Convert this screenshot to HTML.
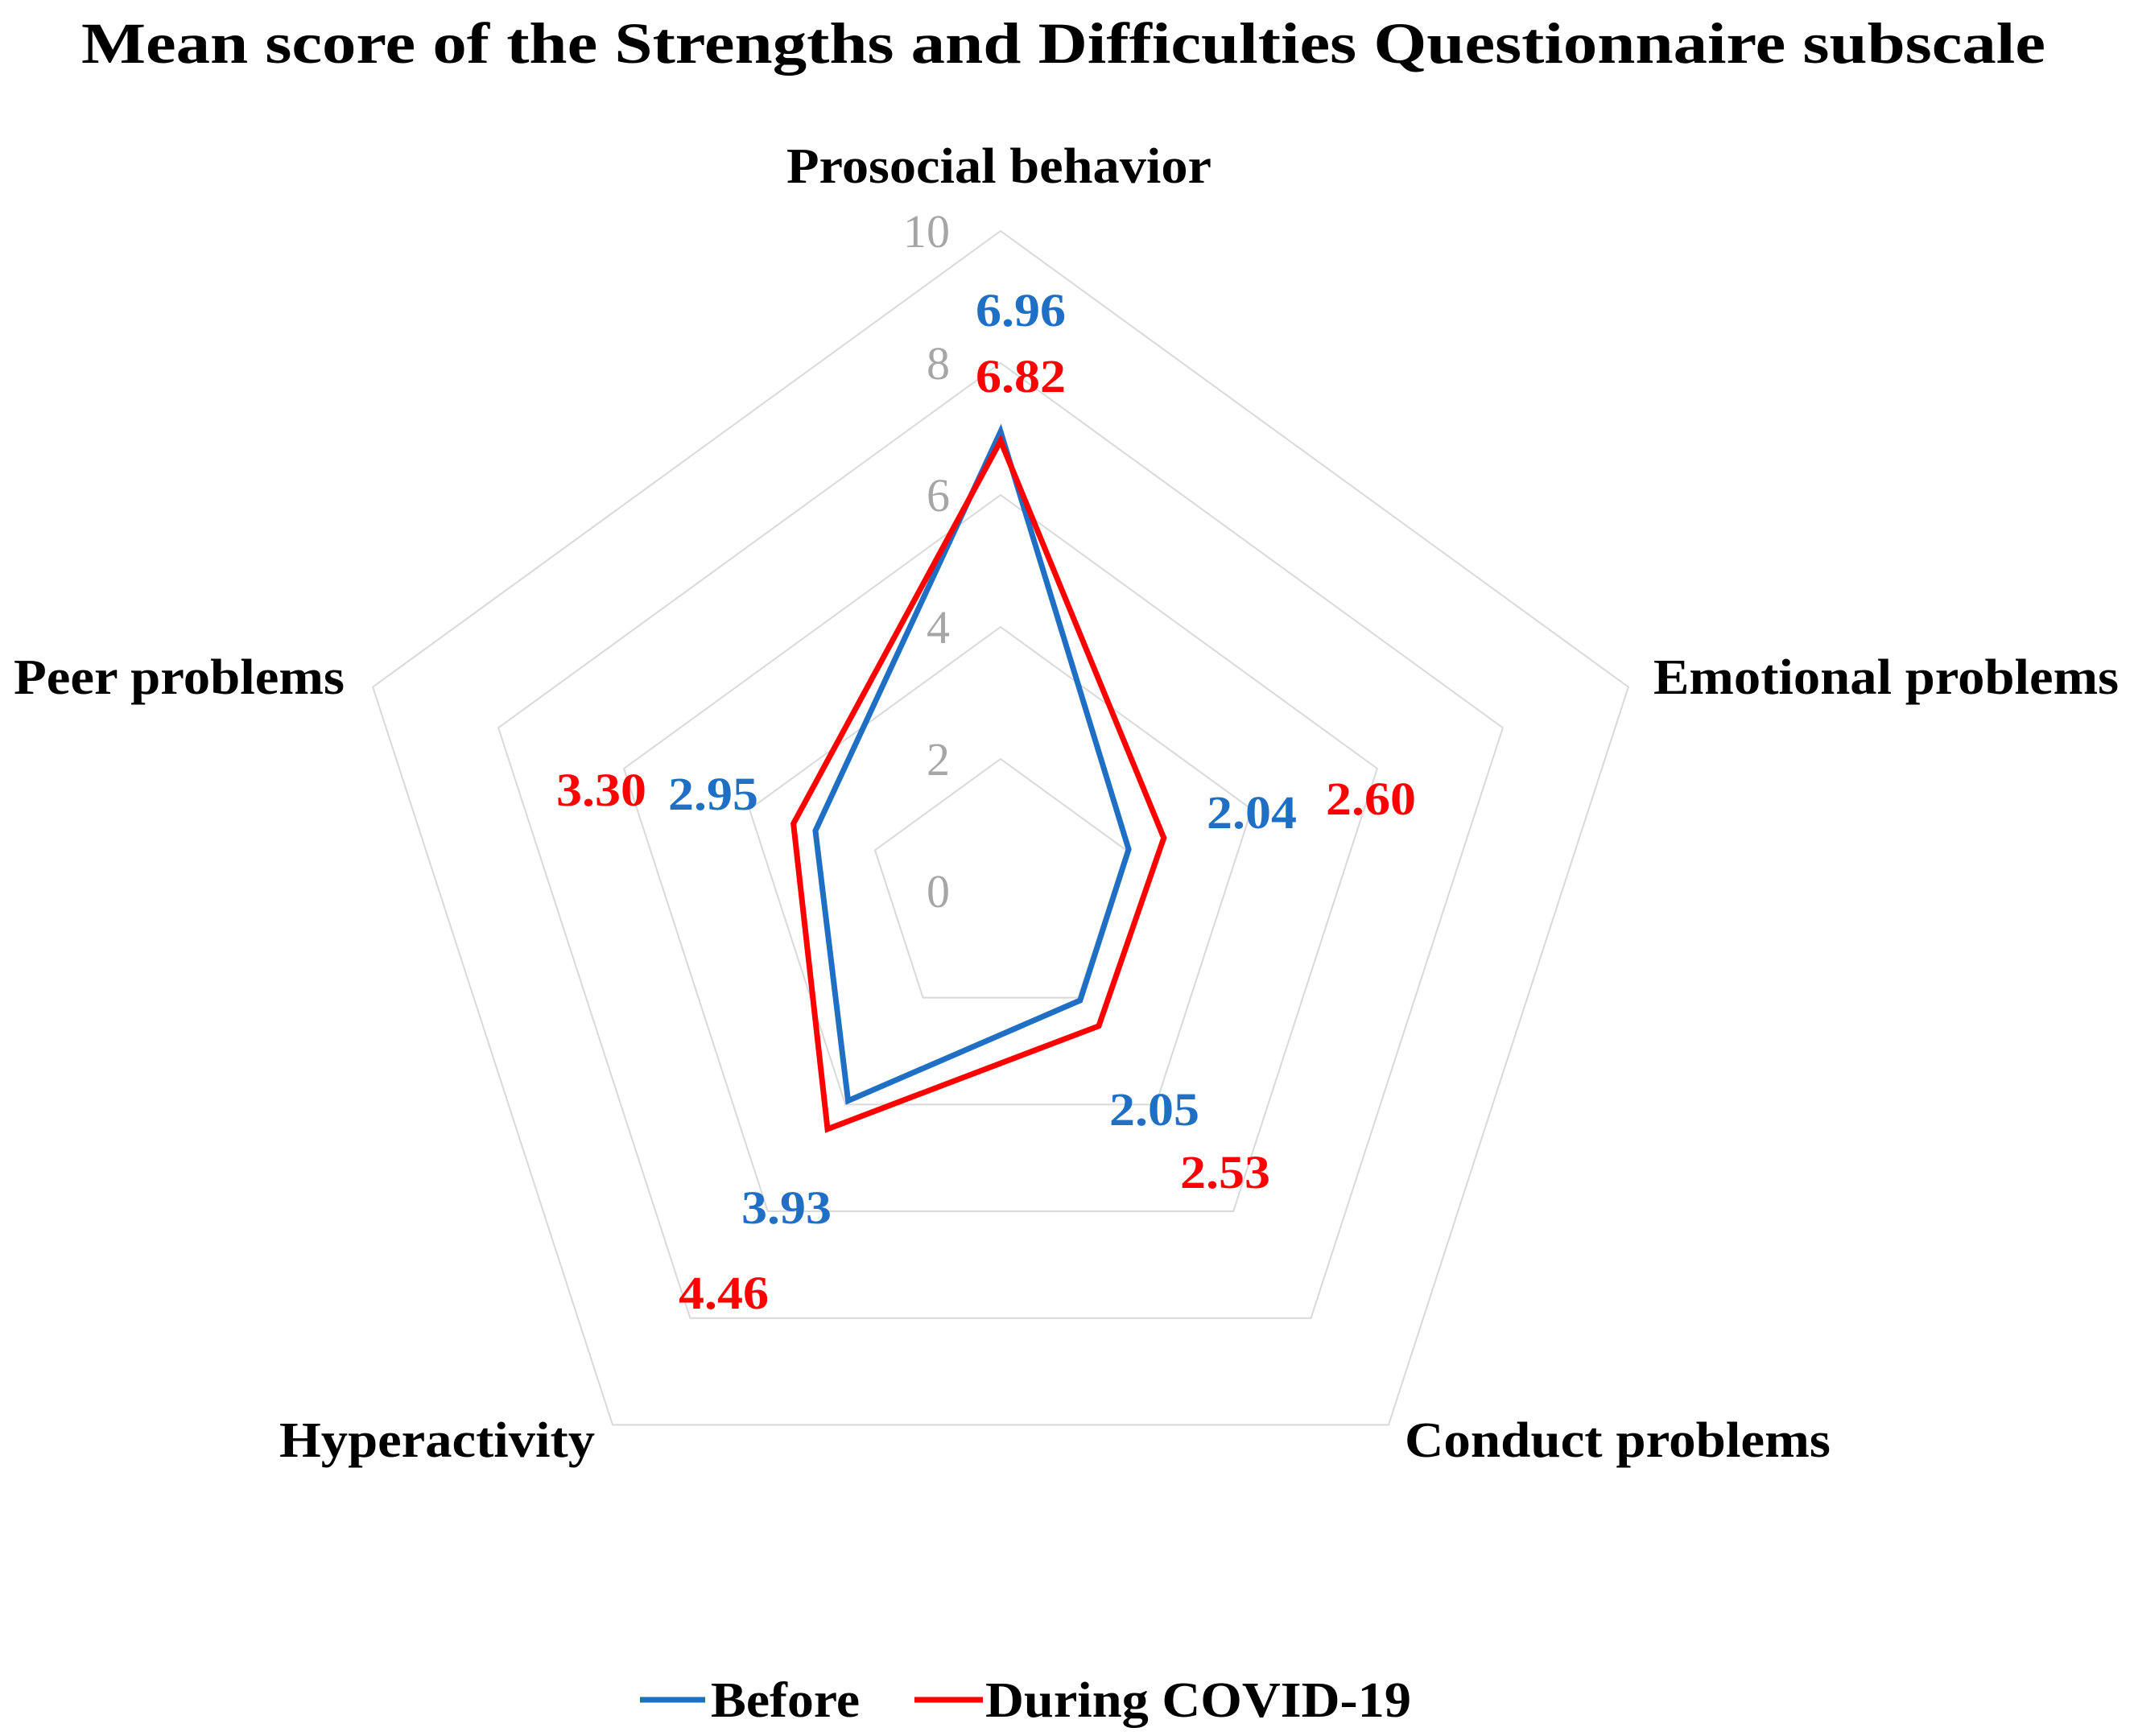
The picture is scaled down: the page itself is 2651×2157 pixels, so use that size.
<!DOCTYPE html>
<html><head><meta charset="utf-8"><style>
html,body{margin:0;padding:0;background:#fff;}
svg{display:block;font-family:"Liberation Serif",serif;}
</style></head><body>
<svg id="chart" width="2651" height="2157" viewBox="0 0 2651 2157">
<text x="101" y="78" font-size="72" font-weight="bold" textLength="2440" lengthAdjust="spacingAndGlyphs">Mean score of the Strengths and Difficulties Questionnaire subscale</text>
<g id="grid"></g><g id="ticks"></g><g id="series"></g><g id="labels"></g><g id="axis-labels"></g>
<g>
<g>
<line x1="795" y1="2112" x2="876" y2="2112" stroke="#1f6fc5" stroke-width="7"/>
<text x="883" y="2133" font-size="62" font-weight="bold" textLength="185" lengthAdjust="spacingAndGlyphs">Before</text></g>
<g>
<line x1="1136" y1="2112" x2="1221" y2="2112" stroke="#ff0000" stroke-width="7"/>
<text x="1224" y="2133" font-size="62" font-weight="bold" textLength="529" lengthAdjust="spacingAndGlyphs">During COVID-19</text></g>
</g>
</svg>
<script>
const categories = ["Prosocial behavior","Emotional problems","Conduct problems","Hyperactivity","Peer problems"];
const beforeValues = [6.96, 2.04, 2.05, 3.93, 2.95];
const duringValues = [6.82, 2.60, 2.53, 4.46, 3.30];
const tickValues = [0, 2, 4, 6, 8, 10];

const NS = "http://www.w3.org/2000/svg";
const cx = 1243, cy = 1107, R = 820, maxV = 10;
function ang(i){ return -Math.PI/2 + i*2*Math.PI/categories.length; }
function pt(i, v){ const r = R*v/maxV; return [cx + r*Math.cos(ang(i)), cy + r*Math.sin(ang(i))]; }
function mk(tag, attrs, parent){ const e = document.createElementNS(NS, tag); for (const k in attrs) e.setAttribute(k, attrs[k]); parent.appendChild(e); return e; }

const grid = document.getElementById('grid');
tickValues.forEach(t => {
  if (t === 0) return;
  const pts = categories.map((c,i) => pt(i,t).join(',')).join(' ');
  const p = mk('polygon', {points: pts, fill: 'none', stroke: '#d9d9d9', 'stroke-width': 2}, grid);
  
  
});
const ticks = document.getElementById('ticks');
tickValues.forEach(t => {
  const [x, y] = pt(0, t);
  const tx = mk('text', {x: x - 63, y: y + 20, 'font-size': 58, fill: '#a6a6a6', 'text-anchor': 'end'}, ticks);
  tx.textContent = t;
  
  
});

const series = document.getElementById('series');
[[beforeValues, '#1f6fc5', 'series-before'], [duringValues, '#ff0000', 'series-during-covid']].forEach(([vals, col, nm]) => {
  const pts = vals.map((v,i) => pt(i,v).join(',')).join(' ');
  const p = mk('polygon', {points: pts, fill: 'none', stroke: col, 'stroke-width': 7, 'stroke-linejoin': 'miter'}, series);
  
  
});

// label anchor layout (positions, not data)
const beforeLabelPos = [[1268,405],[1555,1029],[1434,1398],[977,1520],[886,1006]];
const duringLabelPos = [[1268,487],[1703,1012],[1522,1476],[899,1626],[747,1001]];
const labels = document.getElementById('labels');
[[beforeValues, beforeLabelPos, '#1f6fc5', 'before'], [duringValues, duringLabelPos, '#ff0000', 'during']].forEach(([vals, pos, col, nm]) => {
  vals.forEach((v,i) => {
    const t = mk('text', {x: pos[i][0], y: pos[i][1], 'font-size': 58, 'font-weight': 'bold', fill: col, 'text-anchor': 'middle', textLength: 112, lengthAdjust: 'spacingAndGlyphs'}, labels);
    t.textContent = v.toFixed(2);
    
    
  });
});

const axisPos = [[977,227,528],[2054,862,578],[1745,1810,529],[347,1810,392],[17,862,411]];
const al = document.getElementById('axis-labels');
categories.forEach((c,i) => {
  const t = mk('text', {x: axisPos[i][0], y: axisPos[i][1], 'font-size': 62, 'font-weight': 'bold', textLength: axisPos[i][2], lengthAdjust: 'spacingAndGlyphs'}, al);
  t.textContent = c;
  
  
});
</script>
</body></html>
